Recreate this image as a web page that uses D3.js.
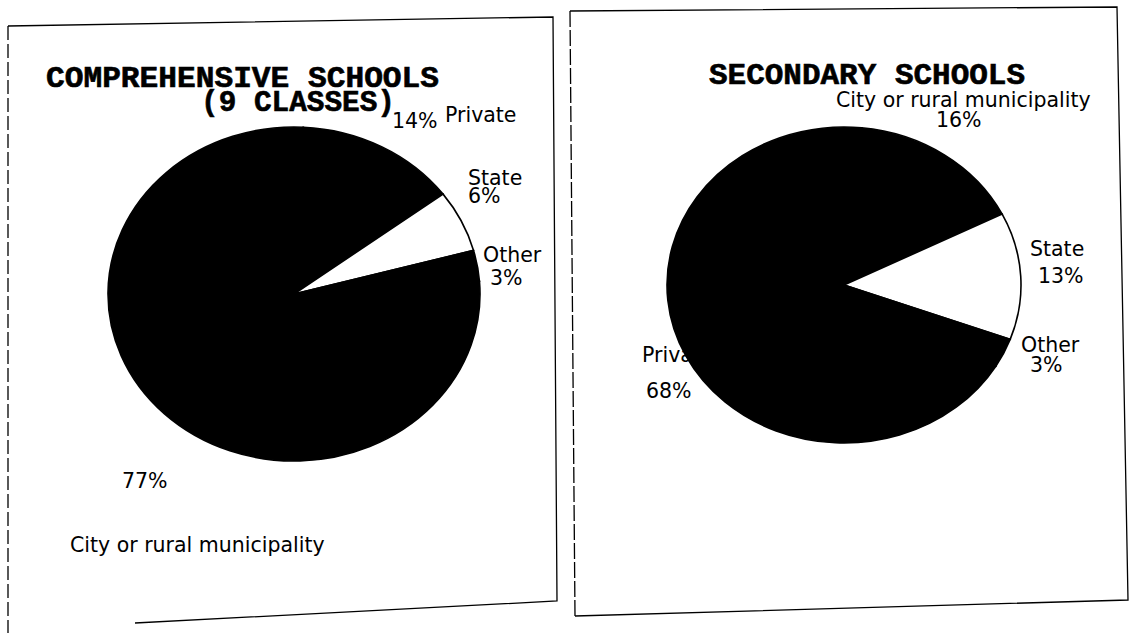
<!DOCTYPE html>
<html>
<head>
<script src="https://cdnjs.cloudflare.com/ajax/libs/d3/7.8.5/d3.min.js"></script>
<style type='text/css'>
  body { margin: 0; background: #fff; }
  svg text.lbl { font-family: "DejaVu Sans", sans-serif; font-size: 20.5px; fill: #000; }
  svg text.ttl { font-family: "Liberation Mono", monospace; font-weight: bold; font-size: 29px;
                 fill: #000; stroke: #000; stroke-width: 0.6; }
  .frame { fill: none; stroke: #000; stroke-width: 1.3; }
</style>
</head>
<body>
<svg id="chart" width="1136" height="633"></svg>
<script>
// comprehensive schools (9 classes)
var compCategories = ["Private", "State", "Other", "City or rural municipality"];
var compValues = [14, 6, 3, 77];
// secondary schools
var secCategories = ["City or rural municipality", "State", "Other", "Private"];
var secValues = [16, 13, 3, 68];

var whiteSlice = "State";

var svg = d3.select("#chart");

// scanned page frames (slightly skewed)
var frameLine = d3.line();
svg.append("path").attr("class", "frame")
  .attr("d", frameLine([[8, 26], [553, 17], [557, 601], [135, 623]]));
svg.append("path").attr("class", "frame").attr("stroke-dasharray", "14,4")
  .attr("d", frameLine([[8, 26], [8, 633]]));
svg.append("path").attr("class", "frame")
  .attr("d", frameLine([[570, 11], [1117, 7], [1128, 600], [575, 616]]));
svg.append("path").attr("class", "frame").attr("stroke-dasharray", "16,3")
  .attr("d", frameLine([[570, 11], [575, 616]]));

function drawPie(opt) {
  var data = opt.categories.map(function(c, i) { return { cat: c, value: opt.values[i] }; });
  var pie = d3.pie().sort(null).value(function(d) { return d.value; })
    .startAngle(opt.rot).endAngle(opt.rot + 2 * Math.PI);
  var arc = d3.arc().innerRadius(0).outerRadius(opt.rx);

  var g = svg.append("g");

  // titles
  opt.title.forEach(function(t) {
    g.append("text").attr("class", "ttl")
      .attr("x", t.x).attr("y", t.y)
      .attr("textLength", t.w).attr("lengthAdjust", "spacingAndGlyphs")
      .text(t.text);
  });

  // labels (drawn before the pie so the pie can cover them)
  data.forEach(function(d) {
    var p = opt.labelPos[d.cat];
    g.append("text").attr("class", "lbl").attr("x", p.name[0]).attr("y", p.name[1]).text(d.cat);
    g.append("text").attr("class", "lbl").attr("x", p.pct[0]).attr("y", p.pct[1]).text(d.value + "%");
  });

  var pg = g.append("g")
    .attr("transform", "translate(" + opt.cx + "," + opt.cy + ") scale(1," + (opt.ry / opt.rx) + ")");
  pg.selectAll("path").data(pie(data)).enter().append("path")
    .attr("d", arc)
    .attr("fill", function(d) { return d.data.cat === whiteSlice ? "#fff" : "#000"; })
    .attr("stroke", "#000")
    .attr("stroke-width", 1.6)
    .attr("vector-effect", "non-scaling-stroke");
}

drawPie({
  categories: compCategories, values: compValues,
  cx: 294, cy: 294, rx: 186, ry: 167, rot: 0.05,
  title: [
    { text: "COMPREHENSIVE SCHOOLS", x: 46, y: 87, w: 393 },
    { text: "(9 CLASSES)", x: 201, y: 111, w: 194 }
  ],
  labelPos: {
    "Private": { pct: [392, 128], name: [445, 122] },
    "State": { name: [468, 185], pct: [468, 203] },
    "Other": { name: [483, 262], pct: [490, 285] },
    "City or rural municipality": { pct: [122, 488], name: [70, 552] }
  }
});

drawPie({
  categories: secCategories, values: secValues,
  cx: 844, cy: 285, rx: 177, ry: 158, rot: 0.1,
  title: [
    { text: "SECONDARY SCHOOLS", x: 709, y: 84, w: 316 }
  ],
  labelPos: {
    "City or rural municipality": { name: [836, 107], pct: [936, 127] },
    "State": { name: [1030, 256], pct: [1038, 283] },
    "Other": { name: [1021, 352], pct: [1030, 372] },
    "Private": { name: [642, 362], pct: [646, 398] }
  }
});
</script>
</body>
</html>
